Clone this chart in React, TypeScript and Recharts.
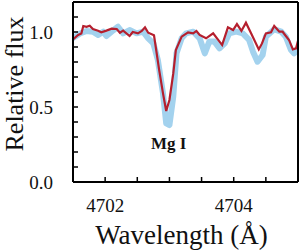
import React from 'react';
import { LineChart, Line, XAxis, YAxis, ReferenceDot } from 'recharts';

const redWave = [4701.50, 4701.58, 4701.63, 4701.66, 4701.71, 4701.76, 4701.81, 4701.89, 4701.94, 4702.02, 4702.10, 4702.18, 4702.23, 4702.28, 4702.38, 4702.43, 4702.51, 4702.57, 4702.62, 4702.67, 4702.76, 4702.84, 4702.90, 4702.95, 4703.00, 4703.06, 4703.10, 4703.19, 4703.29, 4703.37, 4703.42, 4703.47, 4703.57, 4703.68, 4703.82, 4703.91, 4703.99, 4704.05, 4704.12, 4704.19, 4704.27, 4704.39, 4704.44, 4704.50, 4704.58, 4704.63, 4704.71, 4704.76, 4704.86, 4704.92, 4704.97, 4705.00];
const redFlux = [0.951, 0.98, 0.99, 1.04, 1.035, 1.042, 1.02, 1.009, 0.998, 1.009, 1.022, 1.02, 0.995, 1.009, 0.973, 1.0, 0.991, 1.007, 1.031, 0.995, 0.978, 0.747, 0.591, 0.473, 0.547, 0.724, 0.88, 0.969, 0.998, 0.991, 1.007, 0.98, 0.958, 0.991, 0.913, 1.031, 1.013, 1.053, 1.007, 1.062, 0.991, 0.884, 0.924, 0.991, 0.998, 1.04, 1.002, 1.002, 0.947, 0.884, 0.891, 0.942];

const blueWave = [4701.50, 4701.61, 4701.71, 4701.81, 4701.89, 4701.97, 4702.02, 4702.10, 4702.20, 4702.28, 4702.38, 4702.49, 4702.59, 4702.67, 4702.75, 4702.82, 4702.90, 4702.95, 4703.00, 4703.06, 4703.11, 4703.19, 4703.26, 4703.37, 4703.47, 4703.55, 4703.62, 4703.70, 4703.78, 4703.86, 4703.93, 4704.04, 4704.14, 4704.24, 4704.30, 4704.37, 4704.45, 4704.50, 4704.63, 4704.74, 4704.81, 4704.89, 4704.94, 4705.00];
const blueFlux = [0.96, 0.99, 1.007, 1.002, 0.98, 1.002, 0.973, 1.002, 1.035, 0.991, 1.013, 0.991, 1.002, 0.958, 0.924, 0.813, 0.591, 0.391, 0.38, 0.569, 0.858, 0.958, 0.991, 1.002, 0.958, 0.858, 0.936, 0.936, 0.891, 0.924, 0.991, 1.002, 0.991, 0.947, 0.869, 0.802, 0.847, 0.969, 1.018, 1.002, 0.969, 0.88, 0.858, 0.88];

const xTicks = [4702, 4702.5, 4703, 4703.5, 4704, 4704.5];
const xLabels = [4702, 4704];
const yTicks = [0, 0.1, 0.2, 0.3, 0.4, 0.5, 0.6, 0.7, 0.8, 0.9, 1.0, 1.1];
const yLabels = [0, 0.5, 1.0];
const xDomain = [4701.5, 4705.0];
const yDomain = [0, 1.2];
const lineLabel = { text: 'Mg I', w: 4702.99, f: 0.262 };

const redData = redWave.map((w, i) => ({ w, f: redFlux[i] }));
const blueData = blueWave.map((w, i) => ({ w, f: blueFlux[i] }));

const FONT = '"Liberation Serif", "Times New Roman", serif';
const tickStyle = { fontSize: 19, fill: '#111', style: { fontFamily: FONT } };
const axisLine = { stroke: '#000', strokeWidth: 2 };
const tickLine = { stroke: '#000', strokeWidth: 1.5 };

const XTitle = (props: any) => {
  const vb = props.viewBox || {};
  return (
    <text x={vb.x + vb.width / 2 - 4} y={vb.y + 62} textAnchor="middle"
      style={{ fontFamily: FONT }} fontSize={27} fill="#111">Wavelength (Å)</text>
  );
};

const YTitle = (props: any) => {
  const vb = props.viewBox || {};
  const cx = 23.3;
  const cy = vb.y + vb.height / 2 - 8;
  return (
    <text x={cx} y={cy} transform={`rotate(-90, ${cx}, ${cy})`} textAnchor="middle"
      style={{ fontFamily: FONT }} fontSize={26} fill="#111">Relative flux</text>
  );
};

export default function App() {
  return (
    <div style={{ position: 'absolute', left: 0, top: 0, width: 299, height: 250, background: '#fff', fontFamily: FONT }}>
      <LineChart width={299} height={250} margin={{ top: 2, right: 1, bottom: 0, left: 0 }} style={{ fontFamily: FONT }}>
        <XAxis xAxisId="b" dataKey="w" type="number" domain={xDomain} ticks={xTicks} interval={0}
          allowDataOverflow orientation="bottom" height={68}
          axisLine={axisLine} tickLine={tickLine} tickSize={-5} tickMargin={22}
          tick={tickStyle}
          tickFormatter={(v: number) => (xLabels.includes(v) ? String(v) : '')}
          label={<XTitle />} />
        <XAxis xAxisId="t" dataKey="w" type="number" domain={xDomain} ticks={xTicks} interval={0}
          allowDataOverflow orientation="top" mirror height={1}
          axisLine={axisLine} tickLine={tickLine} tickSize={5} tick={false} />
        <YAxis yAxisId="l" type="number" domain={yDomain} ticks={yTicks} interval={0}
          allowDataOverflow orientation="left" width={73}
          axisLine={axisLine} tickLine={tickLine} tickSize={-5} tickMargin={25}
          tick={tickStyle}
          tickFormatter={(v: number) => (yLabels.some((l) => Math.abs(l - v) < 1e-6) ? v.toFixed(1) : '')}
          label={<YTitle />} />
        <YAxis yAxisId="r" type="number" domain={yDomain} ticks={yTicks} interval={0}
          allowDataOverflow orientation="right" mirror width={1}
          axisLine={axisLine} tickLine={tickLine} tickSize={5} tick={false} />
        <Line xAxisId="b" yAxisId="l" data={blueData} dataKey="f" type="linear"
          stroke="#a3d2ee" strokeWidth={6} strokeLinejoin="round" strokeLinecap="round"
          dot={false} isAnimationActive={false} />
        <Line xAxisId="b" yAxisId="l" data={redData} dataKey="f" type="linear"
          stroke="#b51f2e" strokeWidth={2.2} dot={false} isAnimationActive={false} />
        <ReferenceDot xAxisId="b" yAxisId="l" x={lineLabel.w} y={lineLabel.f} r={0}
          fill="none" stroke="none"
          label={{ value: lineLabel.text, position: 'center', fontSize: 17, fontWeight: 'bold', fill: '#111', style: { fontFamily: FONT } }} />
      </LineChart>
    </div>
  );
}
